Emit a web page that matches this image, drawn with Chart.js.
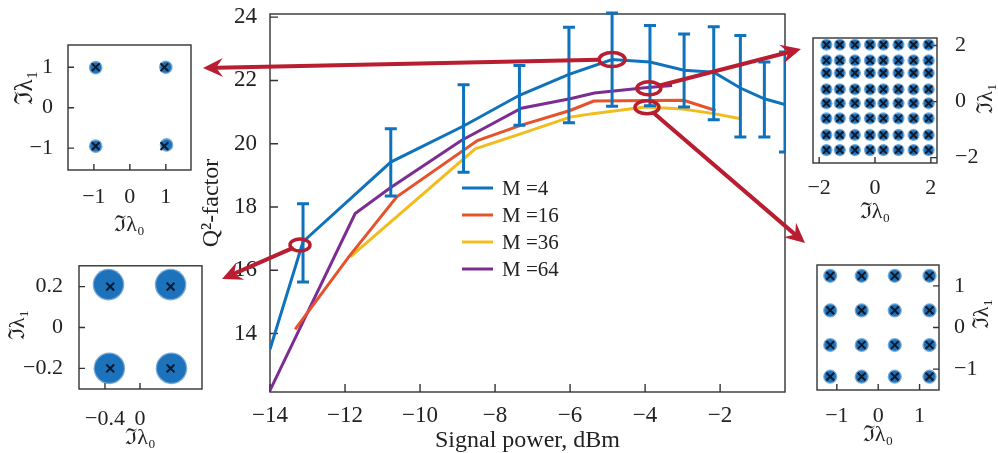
<!DOCTYPE html>
<html>
<head>
<meta charset="utf-8">
<script src="https://cdn.jsdelivr.net/npm/chart.js@4.4.0/dist/chart.umd.min.js"></script>
<style>
  html, body { margin: 0; padding: 0; background: #fff; }
  #wrap { position: relative; width: 998px; height: 453px; overflow: hidden; }
  canvas { position: absolute; }
</style>
</head>
<body>
<div id="wrap">
  <canvas id="main" width="998" height="453" style="left:0;top:0"></canvas>
  <canvas id="c1" width="210" height="210" style="left:0;top:30px"></canvas>
  <canvas id="c2" width="220" height="203" style="left:0;top:250px"></canvas>
  <canvas id="c3" width="208" height="200" style="left:790px;top:30px"></canvas>
  <canvas id="c4" width="218" height="203" style="left:780px;top:250px"></canvas>
</div>
<script>
// --- data ---
const seriesLabels = ['M =4', 'M =16', 'M =36', 'M =64'];
const seriesColors = ['#0f72bd', '#e5522b', '#f2bc1c', '#7b2d91'];

const powerM4 = [-14, -13.12, -10.78, -8.84, -7.35, -6.03, -4.88, -3.87, -2.96, -2.17, -1.46, -0.82, -0.27];
const qM4 = [13.5, 16.9, 19.42, 20.56, 21.53, 22.19, 22.66, 22.58, 22.32, 22.26, 21.76, 21.42, 21.24];
const errLowM4 = [null, 15.63, 18.35, 19.1, 20.58, 20.66, 21.18, 21.2, 21.16, 20.76, 20.21, 20.21, 19.74];
const errHighM4 = [null, 18.1, 20.47, 21.86, 22.47, 23.68, 24.13, 23.74, 23.47, 23.7, 23.42, 22.58, 22.9];

const powerM16 = [-13.33, -11.9, -10.62, -8.47, -7.32, -6.0, -5.37, -2.97, -2.12];
const qM16 = [14.13, 16.42, 18.32, 20.1, 20.58, 21.05, 21.35, 21.37, 21.05];

const powerM36 = [-11.86, -8.53, -7.3, -6.0, -5.4, -4.0, -3.0, -2.17, -1.45];
const qM36 = [16.42, 19.84, 20.32, 20.84, 20.95, 21.16, 21.1, 20.95, 20.79];

const powerM64 = [-14, -11.73, -10.8, -8.9, -7.3, -6.0, -5.35, -4.0, -3.28];
const qM64 = [12.2, 17.79, 18.6, 20.1, 21.12, 21.42, 21.6, 21.77, 21.84];

const xTicks = [-14, -12, -10, -8, -6, -4, -2];
const yTicks = [14, 16, 18, 20, 22, 24];

// circled operating points
const markPower = [-13.2, -4.88, -3.9, -3.95];
const markQ = [16.8, 22.66, 21.75, 21.15];

// constellations in the insets
const c1BlobX = [-0.95, 1.0, -0.95, 1.02];
const c1BlobY = [0.99, 1.0, -0.95, -0.92];
const c1SymX = [-0.95, 0.96, -0.95, 0.96];
const c1SymY = [1.0, 1.0, -0.95, -0.95];
const c1Ticks = [-1, 0, 1];

const c2BlobX = [-0.36, 0.35, -0.35, 0.36];
const c2BlobY = [0.21, 0.21, -0.2, -0.2];
const c2SymX = [-0.34, 0.35, -0.34, 0.35];
const c2SymY = [0.2, 0.2, -0.2, -0.2];
const c2TicksX = [-0.4, 0];
const c2TicksY = [-0.2, 0, 0.2];

const c3Cols = [-1.74, -1.26, -0.72, -0.18, 0.3, 0.84, 1.38, 1.92];
const c3Rows = [2.03, 1.47, 1.02, 0.44, -0.06, -0.6, -1.19, -1.73];
const c3Ticks = [-2, 0, 2];

const c4Cols = [-1.16, -0.4, 0.4, 1.24];
const c4Rows = [1.24, 0.41, -0.42, -1.18];
const c4Ticks = [-1, 0, 1];

// --- helpers ---
const serif = "'Liberation Serif', 'DejaVu Serif', serif";
const ink = '#222';
const arrowRed = '#b91d30';

function pairs(xs, ys) { return xs.map((x, i) => ({ x: x, y: ys[i] })); }
function grid(cols, rows) {
  const pts = [];
  rows.forEach(r => cols.forEach(c => pts.push({ x: c, y: r })));
  return pts;
}
function fmt(v) { return String(v).replace('-', '\u2212'); }

// fixed axis sizes, no label overflow padding
function fixX(h) { return s => { s.height = h; s.paddingLeft = 0; s.paddingRight = 0; }; }
function fixY(w) { return s => { s.width = w; s.paddingTop = 0; s.paddingBottom = 0; }; }

// frame + inward tick marks
const frameTicks = {
  id: 'frameTicks',
  beforeDatasetsDraw(chart, args, o) {
    const { ctx, chartArea: a } = chart;
    const len = o.len || 7;
    ctx.save();
    ctx.strokeStyle = '#333';
    ctx.lineWidth = 1.4;
    ctx.strokeRect(a.left, a.top, a.right - a.left, a.bottom - a.top);
    const xs = chart.scales.x, ys = chart.scales.y;
    ctx.beginPath();
    xs.ticks.forEach(t => {
      const px = xs.getPixelForValue(t.value);
      ctx.moveTo(px, a.bottom);
      ctx.lineTo(px, a.bottom - len);
    });
    const right = ys.position === 'right';
    ys.ticks.forEach(t => {
      const py = ys.getPixelForValue(t.value);
      const x0 = right ? a.right : a.left;
      ctx.moveTo(x0, py);
      ctx.lineTo(x0 + (right ? -len : len), py);
    });
    ctx.stroke();
    ctx.restore();
  }
};

const errorBars = {
  id: 'errorBars',
  afterDatasetsDraw(chart, args, o) {
    const { ctx, chartArea: a, scales: { x, y } } = chart;
    ctx.save();
    ctx.beginPath();
    ctx.rect(a.left - 2, 0, a.right - a.left + 3, chart.height);
    ctx.clip();
    ctx.strokeStyle = o.color;
    ctx.lineWidth = 3;
    o.xs.forEach((xv, i) => {
      if (o.low[i] == null) return;
      const px = x.getPixelForValue(xv);
      const p0 = y.getPixelForValue(o.low[i]);
      const p1 = y.getPixelForValue(o.high[i]);
      ctx.beginPath();
      ctx.moveTo(px, p0); ctx.lineTo(px, p1);
      ctx.moveTo(px - o.cap, p0); ctx.lineTo(px + o.cap, p0);
      ctx.moveTo(px - o.cap, p1); ctx.lineTo(px + o.cap, p1);
      ctx.stroke();
    });
    ctx.restore();
  }
};

const legendBox = {
  id: 'legendBox',
  afterDatasetsDraw(chart, args, o) {
    const ctx = chart.ctx;
    ctx.save();
    ctx.font = o.size + 'px ' + serif;
    ctx.textBaseline = 'middle';
    ctx.fillStyle = ink;
    chart.data.datasets.forEach((ds, i) => {
      const y = o.top + i * o.gap;
      ctx.strokeStyle = ds.borderColor;
      ctx.lineWidth = 3;
      ctx.beginPath();
      ctx.moveTo(o.left, y); ctx.lineTo(o.left + 31, y);
      ctx.stroke();
      ctx.fillText(ds.label, o.left + 40, y + 1);
    });
    ctx.restore();
  }
};

function drawArrow(ctx, x0, y0, x1, y1) {
  const ang = Math.atan2(y1 - y0, x1 - x0);
  const c = Math.cos(ang), s = Math.sin(ang);
  const hl = 20, hw = 9.5;
  ctx.beginPath();
  ctx.moveTo(x0, y0);
  ctx.lineTo(x1 - hl * 0.7 * c, y1 - hl * 0.7 * s);
  ctx.stroke();
  const bx = x1 - hl * c, by = y1 - hl * s;
  ctx.beginPath();
  ctx.moveTo(x1, y1);
  ctx.lineTo(bx + hw * s, by - hw * c);
  ctx.lineTo(x1 - hl * 0.65 * c, y1 - hl * 0.65 * s);
  ctx.lineTo(bx - hw * s, by + hw * c);
  ctx.closePath();
  ctx.fill();
}

const callouts = {
  id: 'callouts',
  afterDatasetsDraw(chart, args, o) {
    const { ctx, scales: { x, y } } = chart;
    ctx.save();
    ctx.strokeStyle = arrowRed;
    ctx.fillStyle = arrowRed;
    ctx.lineCap = 'round';
    o.px.forEach((pv, i) => {
      const cx = x.getPixelForValue(pv), cy = y.getPixelForValue(o.py[i]);
      const rx = o.rx[i], ry = o.ry[i];
      const [tx, ty] = o.to[i];
      const dx = tx - cx, dy = ty - cy;
      const k = 1 / Math.sqrt((dx / rx) ** 2 + (dy / ry) ** 2);
      ctx.lineWidth = 4;
      drawArrow(ctx, cx + dx * k, cy + dy * k, tx, ty);
      ctx.lineWidth = 3.5;
      ctx.beginPath();
      ctx.ellipse(cx, cy, rx, ry, 0, 0, Math.PI * 2);
      ctx.stroke();
    });
    ctx.restore();
  }
};

// rotated y-axis title at a given spot (reads bottom to top)
const sideTitle = {
  id: 'sideTitle',
  afterDraw(chart, args, o) {
    const ctx = chart.ctx;
    ctx.save();
    ctx.translate(o.x, o.y);
    ctx.rotate(-Math.PI / 2);
    ctx.font = (o.size || 22) + 'px ' + serif;
    ctx.fillStyle = ink;
    ctx.textAlign = 'center';
    ctx.textBaseline = 'middle';
    ctx.fillText(o.text, 0, 0);
    ctx.restore();
  }
};

// --- main chart ---
function lineSet(i, xs, ys) {
  return {
    label: seriesLabels[i], data: pairs(xs, ys), borderColor: seriesColors[i],
    borderWidth: 3, pointRadius: 0, tension: 0, fill: false
  };
}

new Chart(document.getElementById('main'), {
  type: 'line',
  data: {
    datasets: [
      lineSet(0, powerM4, qM4),
      lineSet(1, powerM16, qM16),
      lineSet(2, powerM36, qM36),
      lineSet(3, powerM64, qM64)
    ]
  },
  options: {
    responsive: false,
    animation: false,
    events: [],
    layout: { padding: { left: 200, right: 213, top: 14, bottom: 0 } },
    scales: {
      x: {
        type: 'linear', min: -14, max: -0.27,
        afterFit: fixX(61),
        afterBuildTicks: s => { s.ticks = xTicks.map(v => ({ value: v })); },
        grid: { display: false }, border: { display: false },
        ticks: { font: { family: serif, size: 23, lineHeight: 1 }, color: ink, padding: 4, maxRotation: 0, autoSkip: false, callback: fmt },
        title: { display: true, text: 'Signal power, dBm', font: { family: serif, size: 24, lineHeight: 1 }, color: ink, padding: 0 }
      },
      y: {
        min: 12.15, max: 24.1,
        afterFit: fixY(70),
        afterBuildTicks: s => { s.ticks = yTicks.map(v => ({ value: v })); },
        grid: { display: false }, border: { display: false },
        ticks: { font: { family: serif, size: 23, lineHeight: 1 }, color: ink, padding: 5, autoSkip: false, callback: fmt },
        title: { display: true, text: 'Q\u00B2-factor', font: { family: serif, size: 24, lineHeight: 1 }, color: ink, padding: 0 }
      }
    },
    plugins: {
      legend: { display: false },
      tooltip: { enabled: false },
      frameTicks: { len: 8 },
      errorBars: { xs: powerM4, low: errLowM4, high: errHighM4, color: seriesColors[0], cap: 6 },
      legendBox: { left: 462, top: 188, gap: 27, size: 21 },
      callouts: {
        px: markPower, py: markQ,
        rx: [10, 13, 12, 12], ry: [6, 7, 6.5, 6.5],
        to: [[222, 279], [203, 68], [801, 49], [805, 243]]
      }
    }
  },
  plugins: [frameTicks, errorBars, legendBox, callouts]
});

// --- insets ---
function inset(id, o) {
  const tickFont = { family: serif, size: 22, lineHeight: 1 };
  return new Chart(document.getElementById(id), {
    type: 'scatter',
    data: {
      datasets: [
        { data: o.marks, order: 0, pointStyle: 'crossRot', pointRadius: o.crossR, borderColor: '#101828', borderWidth: 2, backgroundColor: 'transparent' },
        { data: o.blobs, order: 1, pointRadius: o.blobR, backgroundColor: '#1c72bb', borderWidth: 0 },
        { data: o.blobs, order: 2, pointRadius: o.blobR + 1.3, backgroundColor: 'rgba(28,114,187,0.6)', borderWidth: 0 }
      ]
    },
    options: {
      responsive: false,
      animation: false,
      events: [],
      layout: { padding: o.pad },
      scales: {
        x: {
          type: 'linear', min: o.xr[0], max: o.xr[1],
          afterFit: fixX(o.xh),
          afterBuildTicks: s => { s.ticks = o.xt.map(v => ({ value: v })); },
          grid: { display: false }, border: { display: false },
          ticks: { font: tickFont, color: ink, padding: o.xp, maxRotation: 0, autoSkip: false, callback: fmt },
          title: { display: true, text: '\u2111\u03BB\u2080', font: tickFont, color: ink, padding: 0 }
        },
        y: {
          position: o.right ? 'right' : 'left',
          min: o.yr[0], max: o.yr[1],
          afterFit: fixY(o.yw),
          afterBuildTicks: s => { s.ticks = o.yt.map(v => ({ value: v })); },
          grid: { display: false }, border: { display: false },
          ticks: { font: tickFont, color: ink, padding: o.yp, autoSkip: false, callback: fmt }
        }
      },
      plugins: {
        legend: { display: false },
        tooltip: { enabled: false },
        frameTicks: { len: 6 },
        sideTitle: { text: '\u2111\u03BB\u2081', x: o.tx, y: o.ty, size: o.ts }
      }
    },
    plugins: [frameTicks, sideTitle]
  });
}

inset('c1', {
  blobs: pairs(c1BlobX, c1BlobY), marks: pairs(c1SymX, c1SymY), blobR: 5.5, crossR: 5.5,
  xr: [-1.72, 1.7], yr: [-1.54, 1.55], xt: c1Ticks, yt: c1Ticks,
  pad: { left: 14, right: 19, top: 15, bottom: 4 }, xh: 66, yw: 54, xp: 8, yp: 7,
  tx: 25, ty: 58, ts: 25
});
inset('c2', {
  blobs: pairs(c2BlobX, c2BlobY), marks: pairs(c2SymX, c2SymY), blobR: 14.5, crossR: 5.5,
  xr: [-0.697, 0.709], yr: [-0.301, 0.302], xt: c2TicksX, yt: c2TicksY,
  pad: { left: 6, right: 18, top: 15, bottom: 4 }, xh: 60, yw: 73, xp: 11, yp: 8,
  tx: 18, ty: 75, ts: 22
});
inset('c3', {
  blobs: grid(c3Cols, c3Rows), marks: grid(c3Cols, c3Rows), blobR: 4.8, crossR: 5,
  xr: [-2.22, 2.22], yr: [-2.19, 2.27], xt: c3Ticks, yt: c3Ticks, right: true,
  pad: { left: 23, right: 0, top: 8, bottom: 7 }, xh: 60, yw: 61, xp: 6, yp: 10,
  tx: 196.5, ty: 68.5, ts: 22
});
inset('c4', {
  blobs: grid(c4Cols, c4Rows), marks: grid(c4Cols, c4Rows), blobR: 5.8, crossR: 5.5,
  xr: [-1.48, 1.47], yr: [-1.5, 1.5], xt: c4Ticks, yt: c4Ticks, right: true,
  pad: { left: 37, right: 0, top: 15, bottom: 7 }, xh: 56, yw: 59, xp: 7, yp: 7,
  tx: 202, ty: 64, ts: 22
});
</script>
</body>
</html>
